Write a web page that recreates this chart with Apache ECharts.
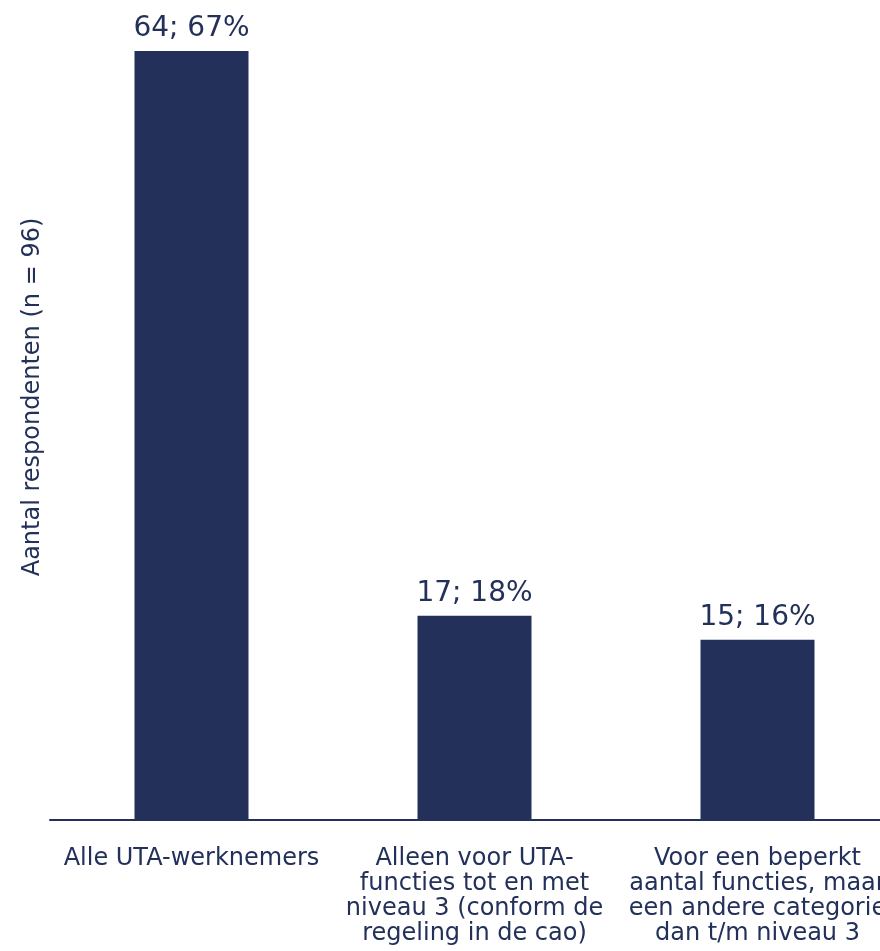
<!DOCTYPE html>
<html><head><meta charset="utf-8">
<script src="https://cdn.jsdelivr.net/npm/echarts@6/dist/echarts.min.js"></script>
<style>html,body{margin:0;padding:0;background:#fff}#c{width:880px;height:951px}</style>
</head><body><div id="c"></div>
<script>
const categories = [
  "Alle UTA-werknemers",
  "Alleen voor UTA-\nfuncties tot en met\nniveau 3 (conform de\nregeling in de cao)",
  "Voor een beperkt\naantal functies, maar\neen andere categorie\ndan t/m niveau 3"
];
const counts = [64, 17, 15];
const percents = [67, 18, 16];
const yAxisTitle = "Aantal respondenten (n = 96)";

const navy = "#22305a";
const font = "DejaVu Sans";
const chart = echarts.init(document.getElementById('c'));
chart.setOption({
  animation: false,
  grid: { left: 50, width: 849, top: 51, bottom: 131, outerBoundsMode: 'none', containLabel: false },
  xAxis: {
    type: 'category', data: categories,
    axisLine: { lineStyle: { color: navy, width: 2 } },
    axisTick: { show: false },
    axisLabel: { color: navy, fontFamily: font, fontSize: 24, lineHeight: 25, margin: 26, interval: 0, align: 'center', hideOverlap: false }
  },
  yAxis: {
    type: 'value', min: 0, max: 64,
    axisLine: { show: false }, axisTick: { show: false },
    axisLabel: { show: false }, splitLine: { show: false }
  },
  graphic: [{
    type: 'text', x: 33, y: 397, rotation: Math.PI / 2,
    style: { text: yAxisTitle, fill: navy, font: '24px "DejaVu Sans"', align: 'center', verticalAlign: 'middle' }
  }],
  series: [{
    type: 'bar', data: counts, barWidth: 114,
    itemStyle: { color: navy },
    label: {
      show: true, position: 'top', distance: 8, color: navy, fontFamily: font, fontSize: 28,
      formatter: p => counts[p.dataIndex] + '; ' + percents[p.dataIndex] + '%'
    }
  }]
});
</script></body></html>
